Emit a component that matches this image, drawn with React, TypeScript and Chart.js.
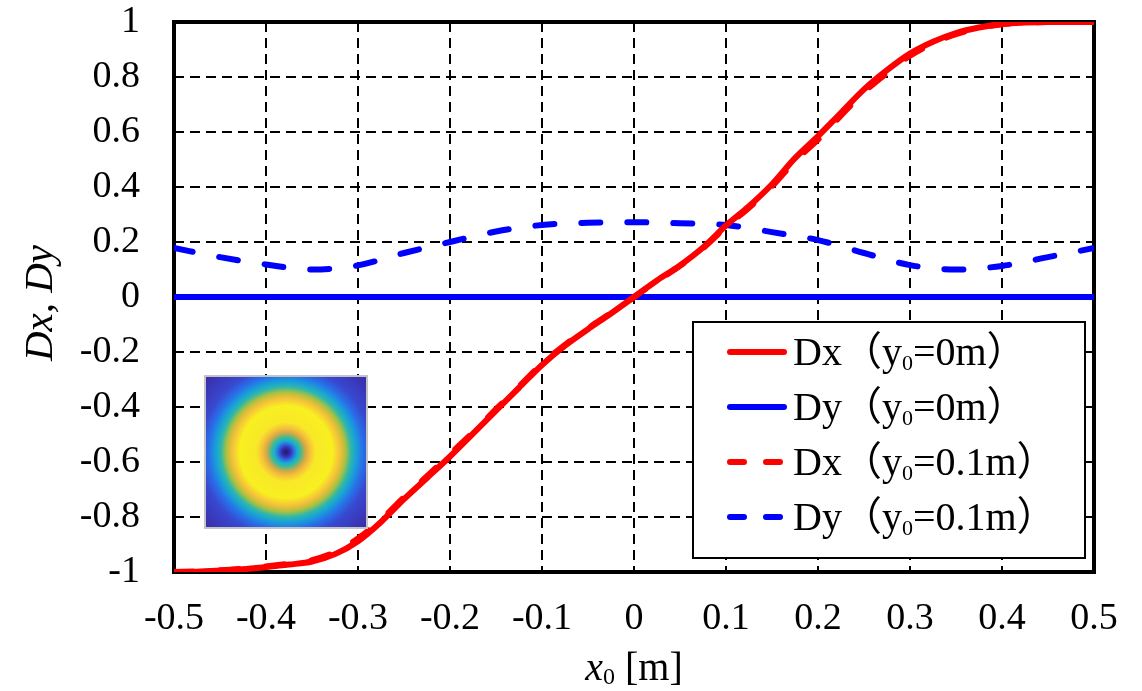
import React, { useEffect, useRef } from "react";
import { Chart, registerables } from "chart.js";
Chart.register(...registerables);

// ---------- data ----------
const xFine = [-0.5, -0.475, -0.45, -0.425, -0.4, -0.375, -0.35, -0.325, -0.3, -0.275, -0.25, -0.225, -0.2, -0.175, -0.15, -0.125, -0.1, -0.075, -0.05, -0.025, 0, 0.025, 0.05, 0.075, 0.1, 0.125, 0.15, 0.175, 0.2, 0.225, 0.25, 0.275, 0.3, 0.325, 0.35, 0.375, 0.4, 0.425, 0.45, 0.475, 0.5];
const dxY0 = [-1, -0.999, -0.995, -0.99, -0.982, -0.973, -0.962, -0.935, -0.888, -0.818, -0.735, -0.658, -0.58, -0.497, -0.413, -0.33, -0.247, -0.177, -0.117, -0.06, 0, 0.06, 0.115, 0.18, 0.26, 0.33, 0.41, 0.505, 0.585, 0.67, 0.755, 0.825, 0.885, 0.928, 0.96, 0.98, 0.993, 0.998, 1, 1, 1];
const dxY01 = [-1, -0.998, -0.994, -0.988, -0.98, -0.97, -0.957, -0.928, -0.878, -0.81, -0.728, -0.652, -0.572, -0.492, -0.408, -0.326, -0.243, -0.174, -0.114, -0.058, 0, 0.058, 0.113, 0.177, 0.255, 0.325, 0.402, 0.495, 0.572, 0.66, 0.745, 0.815, 0.877, 0.922, 0.956, 0.978, 0.992, 0.998, 1, 1, 1];
const xCoarse = [-0.5, -0.45, -0.4, -0.35, -0.3, -0.25, -0.2, -0.15, -0.1, -0.05, 0, 0.05, 0.1, 0.15, 0.2, 0.25, 0.3, 0.35, 0.4, 0.45, 0.5];
const dyY0 = [0, 0, 0, 0, 0, 0, 0, 0, 0, 0, 0, 0, 0, 0, 0, 0, 0, 0, 0, 0, 0];
const dyY01 = [0.178, 0.145, 0.118, 0.1, 0.115, 0.16, 0.2, 0.238, 0.262, 0.27, 0.272, 0.268, 0.262, 0.236, 0.207, 0.16, 0.116, 0.1, 0.113, 0.145, 0.178];

const xTicks = [-0.5, -0.4, -0.3, -0.2, -0.1, 0, 0.1, 0.2, 0.3, 0.4, 0.5];
const xTickLabels = ["-0.5", "-0.4", "-0.3", "-0.2", "-0.1", "0", "0.1", "0.2", "0.3", "0.4", "0.5"];
const yTicks = [-1, -0.8, -0.6, -0.4, -0.2, 0, 0.2, 0.4, 0.6, 0.8, 1];
const yTickLabels = ["-1", "-0.8", "-0.6", "-0.4", "-0.2", "0", "0.2", "0.4", "0.6", "0.8", "1"];

const legendLabels = ["0m", "0m", "0.1m", "0.1m"];
const legendNames = ["Dx", "Dy", "Dx", "Dy"];

const RED = "#ff0000";
const BLUE = "#0000ff";
const SERIF = '"Liberation Serif", "Times New Roman", serif';
const CJK = '"Noto Sans CJK SC", "Noto Sans CJK JP", sans-serif';

const pts = (xs: number[], ys: number[]) => xs.map((x, i) => ({ x, y: ys[i] }));

const drawInset = (ctx: CanvasRenderingContext2D, a: any) => {
  const left = a.left + 32;
  const top = a.top + 355;
  const w = 160;
  const h = 150;
  const cx = left + w / 2;
  const cy = top + h / 2;
  ctx.save();
  ctx.beginPath();
  ctx.rect(left, top, w, h);
  ctx.clip();
  const g = ctx.createRadialGradient(cx, cy, 0, cx, cy, 110);
  const stops: [number, string][] = [
    [0, "#2a1466"],
    [0.04, "#3030b0"],
    [0.075, "#2f6fe0"],
    [0.105, "#18b0d0"],
    [0.135, "#40bb90"],
    [0.175, "#d0a848"],
    [0.215, "#f5be3a"],
    [0.27, "#f8e828"],
    [0.42, "#f8f020"],
    [0.49, "#f5c03a"],
    [0.545, "#a8c040"],
    [0.59, "#30b8a8"],
    [0.64, "#18a0d8"],
    [0.7, "#2870e8"],
    [0.78, "#3848d0"],
    [1, "#3a2ca8"],
  ];
  stops.forEach(([o, c]) => g.addColorStop(o, c));
  ctx.fillStyle = g;
  ctx.fillRect(left, top, w, h);
  ctx.restore();
  ctx.save();
  ctx.strokeStyle = "#c4c4c4";
  ctx.lineWidth = 2;
  ctx.strokeRect(left - 1, top - 1, w + 2, h + 2);
  ctx.restore();
};

const drawPieces = (ctx: CanvasRenderingContext2D, x: number, y: number, pieces: { t: string; f: string; dy?: number }[]) => {
  let cx = x;
  pieces.forEach((p) => {
    ctx.font = p.f;
    ctx.fillText(p.t, cx, y + (p.dy || 0));
    cx += ctx.measureText(p.t).width;
  });
  return cx;
};

const measurePieces = (ctx: CanvasRenderingContext2D, pieces: { t: string; f: string }[]) => {
  let w = 0;
  pieces.forEach((p) => {
    ctx.font = p.f;
    w += ctx.measureText(p.t).width;
  });
  return w;
};

const drawLegend = (ctx: CanvasRenderingContext2D, a: any) => {
  const bx = a.left + 519;
  const by = a.top + 300;
  const bw = 392;
  const bh = 236;
  ctx.save();
  ctx.fillStyle = "#ffffff";
  ctx.fillRect(bx, by, bw, bh);
  ctx.strokeStyle = "#000";
  ctx.lineWidth = 2;
  ctx.strokeRect(bx, by, bw, bh);
  const colors = [RED, BLUE, RED, BLUE];
  const dashed = [false, false, true, true];
  for (let i = 0; i < 4; i++) {
    const ly = by + 30 + i * 55;
    ctx.beginPath();
    ctx.strokeStyle = colors[i];
    ctx.lineWidth = 6;
    ctx.lineCap = "round";
    ctx.setLineDash(dashed[i] ? [14, 22] : []);
    ctx.moveTo(bx + 37, ly);
    ctx.lineTo(bx + 91, ly);
    ctx.stroke();
    ctx.setLineDash([]);
    ctx.fillStyle = "#000";
    ctx.textAlign = "left";
    ctx.textBaseline = "alphabetic";
    drawPieces(ctx, bx + 100, ly + 13, [
      { t: legendNames[i], f: `40px ${SERIF}` },
      { t: "（", f: `40px ${CJK}` },
      { t: "y", f: `40px ${SERIF}` },
      { t: "0", f: `22px ${SERIF}`, dy: 5 },
      { t: "=" + legendLabels[i], f: `40px ${SERIF}` },
      { t: "）", f: `40px ${CJK}` },
    ]);
  }
  ctx.restore();
};

const drawTitles = (ctx: CanvasRenderingContext2D, a: any) => {
  ctx.save();
  ctx.fillStyle = "#000";
  ctx.textAlign = "left";
  ctx.textBaseline = "alphabetic";
  const xp = [
    { t: "x", f: `italic 40px ${SERIF}` },
    { t: "0", f: `24px ${SERIF}`, dy: 4 },
    { t: " [m]", f: `40px ${SERIF}` },
  ];
  const cxm = (a.left + a.right) / 2;
  const wx = measurePieces(ctx, xp);
  drawPieces(ctx, cxm - wx / 2, a.bottom + 108, xp);

  ctx.translate(52, (a.top + a.bottom) / 2 + 6);
  ctx.rotate(-Math.PI / 2);
  ctx.font = `italic 41px ${SERIF}`;
  ctx.textAlign = "center";
  ctx.fillText("Dx, Dy", 0, 0);
  ctx.restore();
};

const decorPlugin = {
  id: "decor",
  beforeDatasetsDraw(chart: any) {
    const { ctx, chartArea: a } = chart;
    ctx.save();
    ctx.strokeStyle = "#000";
    ctx.lineWidth = 4;
    ctx.strokeRect(a.left, a.top, a.right - a.left, a.bottom - a.top);
    ctx.restore();
  },
  afterDatasetsDraw(chart: any) {
    const { ctx, chartArea: a } = chart;
    drawInset(ctx, a);
    drawLegend(ctx, a);
  },
  afterDraw(chart: any) {
    const { ctx, chartArea: a } = chart;
    drawTitles(ctx, a);
  },
};

export default function App() {
  const ref = useRef<HTMLCanvasElement | null>(null);
  useEffect(() => {
    if (!ref.current) return;
    const common = { pointRadius: 0, fill: false, cubicInterpolationMode: "monotone" as const, borderWidth: 6 };
    const chart = new Chart(ref.current, {
      type: "line",
      data: {
        datasets: [
          { ...common, label: "Dx (y0=0m)", data: pts(xFine, dxY0), borderColor: RED, order: 0, borderCapStyle: "round" },
          { ...common, label: "Dy (y0=0m)", data: pts(xCoarse, dyY0), borderColor: BLUE, order: 3, borderCapStyle: "round" },
          { ...common, label: "Dx (y0=0.1m)", data: pts(xFine, dxY01), borderColor: RED, order: 1, borderDash: [19, 27], borderCapStyle: "round" },
          { ...common, label: "Dy (y0=0.1m)", data: pts(xCoarse, dyY01), borderColor: BLUE, order: 2, borderDash: [19, 27], borderCapStyle: "round" },
        ] as any,
      },
      options: {
        animation: false,
        responsive: false,
        devicePixelRatio: 1,
        layout: { padding: { left: 0, top: 22, right: 48, bottom: 0 } },
        plugins: { legend: { display: false }, tooltip: { enabled: false }, title: { display: false } },
        elements: { line: { borderJoinStyle: "round" } },
        scales: {
          x: {
            type: "linear",
            min: -0.5,
            max: 0.5,
            afterBuildTicks: (s: any) => {
              s.ticks = xTicks.map((v) => ({ value: v }));
            },
            afterFit: (s: any) => {
              s.height = 119;
              s.paddingLeft = 0;
              s.paddingRight = 0;
              s.paddingTop = 0;
              s.paddingBottom = 0;
            },
            ticks: {
              autoSkip: false,
              maxRotation: 0,
              padding: 24,
              color: "#000",
              font: { family: SERIF, size: 38 },
              callback: (v: any) => {
                const i = xTicks.findIndex((t) => Math.abs(t - Number(v)) < 1e-9);
                return i >= 0 ? xTickLabels[i] : "";
              },
            },
            grid: { color: "#000", lineWidth: 2, drawTicks: false },
            border: { display: false, dash: [10, 6] },
          },
          y: {
            type: "linear",
            min: -1,
            max: 1,
            afterBuildTicks: (s: any) => {
              s.ticks = yTicks.map((v) => ({ value: v }));
            },
            afterFit: (s: any) => {
              s.width = 174;
              s.paddingLeft = 0;
              s.paddingRight = 0;
              s.paddingTop = 0;
              s.paddingBottom = 0;
            },
            ticks: {
              autoSkip: false,
              padding: 34,
              color: "#000",
              font: { family: SERIF, size: 38 },
              callback: (v: any) => {
                const i = yTicks.findIndex((t) => Math.abs(t - Number(v)) < 1e-9);
                return i >= 0 ? yTickLabels[i] : "";
              },
            },
            grid: { color: "#000", lineWidth: 2, drawTicks: false },
            border: { display: false, dash: [10, 6] },
          },
        },
      },
      plugins: [decorPlugin],
    });
    return () => chart.destroy();
  }, []);
  return (
    <div style={{ position: "absolute", left: 0, top: 0, width: 1142, height: 691, background: "#fff" }}>
      <canvas ref={ref} width={1142} height={691} style={{ display: "block" }} />
    </div>
  );
}
